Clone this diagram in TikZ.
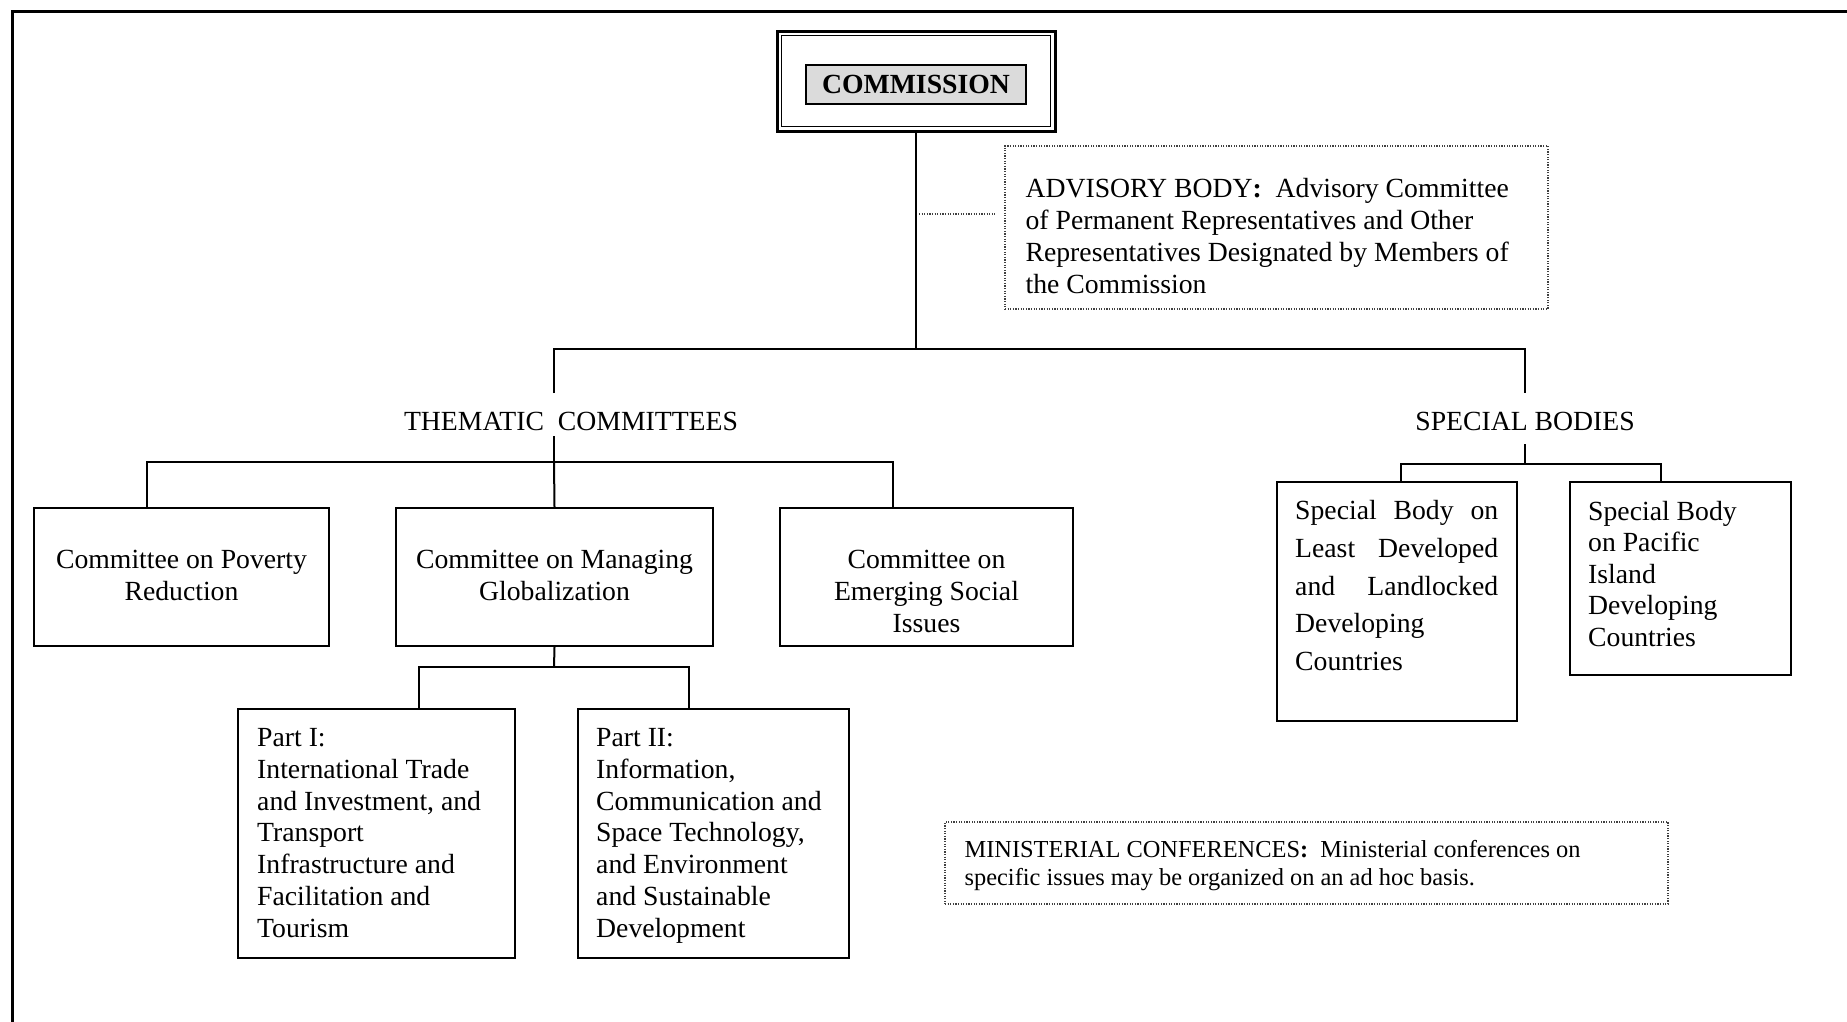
\documentclass[tikz,border=0pt]{standalone}
\usepackage{fontspec}
\setmainfont{Liberation Serif}
\begin{document}
\begin{tikzpicture}[x=1pt,y=-1pt,
  box/.style={draw, line width=2pt, rectangle, inner sep=0pt},
  conn/.style={line width=2pt},
  txt/.style={inner sep=0pt, font=\fontsize{27.7}{31.8}\selectfont},
  smalltxt/.style={inner sep=0pt, font=\fontsize{24.4}{28}\selectfont},
  dotbox/.style={draw=black!75, line width=1.2pt, dash pattern=on 1.2pt off 1.4pt, inner sep=0pt},
  dotline/.style={draw=black!75, line width=1.2pt, dash pattern=on 1.2pt off 1.4pt}]
\useasboundingbox (0,0) rectangle (1847,1021);
% outer frame
\draw[line width=3pt] (12,1040) -- (12,11) -- (1870,11);

% Commission
\node[draw, line width=3pt, minimum width=278pt, minimum height=100pt, inner sep=0pt] (comm) at (916,81) {};
\draw[line width=1.5pt] ([shift={(6pt,-6pt)}]comm.north west) rectangle ([shift={(-6pt,6pt)}]comm.south east);
\node[draw, line width=2pt, fill=gray!28, minimum width=220pt, minimum height=39pt, inner sep=0pt,
      font=\fontsize{27.7}{31.8}\selectfont\bfseries] (commt) at (916,84.5) {COMMISSION};

% Advisory body
\node[dotbox, minimum width=543pt, minimum height=163pt] (adv) at (1276.5,227.5) {};
\node[txt, anchor=north west, align=left] (advt) at ([xshift=21pt,yshift=-30pt]adv.north west)
  {\strut ADVISORY BODY\textbf{:}\ \ Advisory Committee\\of Permanent Representatives and Other\\Representatives Designated by Members of\\the Commission};
\coordinate (advl) at (919,214);
\coordinate (advr) at (995,214);
\draw[dotline] (advl) -- (advr);

% top bar
\coordinate (tb) at (916,349);
\coordinate (tl) at (554,349);
\coordinate (tr) at (1525,349);
\coordinate (tld) at (554,393);
\coordinate (trd) at (1525,393);
\draw[conn] (comm.south) -- (tb);
\draw[conn] (tld) -- (tl) -- (tr) -- (trd);

\node[txt] (them) at (571,421) {THEMATIC\ \ COMMITTEES};
\node[txt] (spec) at (1525,421) {SPECIAL BODIES};

% Thematic committees
\node[box, minimum width=295pt, minimum height=138pt] (pov) at (181.5,577) {};
\node[box, minimum width=317pt, minimum height=138pt] (man) at (554.5,577) {};
\node[box, minimum width=293pt, minimum height=138pt] (emer) at (926.5,577) {};
\node[txt, anchor=north, align=center] (povt) at ([yshift=-39pt]pov.north) {\strut Committee on Poverty\\Reduction};
\node[txt, anchor=north, align=center] (mant) at ([yshift=-39pt]man.north) {\strut Committee on Managing\\Globalization};
\node[txt, anchor=north, align=center] (emert) at ([yshift=-39pt]emer.north) {\strut Committee on\\Emerging Social\\Issues};

\coordinate (tup) at (554,436);
\coordinate (tbar) at (554,462);
\coordinate (tb1) at (147,462);
\coordinate (tb3) at (893,462);
\draw[conn] (tup) -- (tbar);
\draw[conn] (tb1 |- pov.north) -- (tb1) -- (tb3) -- (tb3 |- emer.north);
\draw[conn] (tbar) -- (man.north);

% Parts
\node[box, minimum width=277pt, minimum height=249pt] (p1) at (376.5,833.5) {};
\node[box, minimum width=271pt, minimum height=249pt] (p2) at (713.5,833.5) {};
\node[txt, anchor=north west, align=left] (p1t) at ([xshift=20pt,yshift=-16pt]p1.north west)
  {\strut Part I:\\International Trade\\and Investment, and\\Transport\\Infrastructure and\\Facilitation and\\Tourism};
\node[txt, anchor=north west, align=left] (p2t) at ([xshift=19pt,yshift=-16pt]p2.north west)
  {\strut Part II:\\Information,\\Communication and\\Space Technology,\\and Environment\\and Sustainable\\Development};
\coordinate (mb) at (554,667);
\coordinate (mb1) at (419,667);
\coordinate (mb2) at (689,667);
\draw[conn] (man.south) -- (mb);
\draw[conn] (mb1 |- p1.north) -- (mb1) -- (mb2) -- (mb2 |- p2.north);

% Special bodies
\node[box, minimum width=240pt, minimum height=239pt] (ldc) at (1397,601.5) {};
\node[box, minimum width=221pt, minimum height=193pt] (pac) at (1680.5,578.5) {};
\node[inner sep=0pt, font=\fontsize{27.7}{37.7}\selectfont, anchor=north west, align=left] (ldct)
  at ([xshift=19pt,yshift=-12pt]ldc.north west)
  {\strut\makebox[203pt][s]{Special Body on}\\\makebox[203pt][s]{Least Developed}\\\makebox[203pt][s]{and Landlocked}\\Developing\\Countries};
\node[inner sep=0pt, font=\fontsize{27.7}{31.5}\selectfont, anchor=north west, align=left] (pact)
  at ([xshift=19pt,yshift=-17pt]pac.north west)
  {\strut Special Body\\on Pacific\\Island\\Developing\\Countries};
\coordinate (sup) at (1525,444);
\coordinate (sbar) at (1525,464);
\coordinate (sb1) at (1401,464);
\coordinate (sb2) at (1661,464);
\draw[conn] (sup) -- (sbar);
\draw[conn] (sb1 |- ldc.north) -- (sb1) -- (sb2) -- (sb2 |- pac.north);

% Ministerial conferences
\node[dotbox, minimum width=723pt, minimum height=82pt] (min) at (1306.5,863) {};
\node[smalltxt, anchor=north west, align=left] (mint) at ([xshift=20pt,yshift=-16.5pt]min.north west)
  {\strut MINISTERIAL CONFERENCES\textbf{:}\ \ Ministerial conferences on\\specific issues may be organized on an ad hoc basis.};
\end{tikzpicture}
\end{document}
